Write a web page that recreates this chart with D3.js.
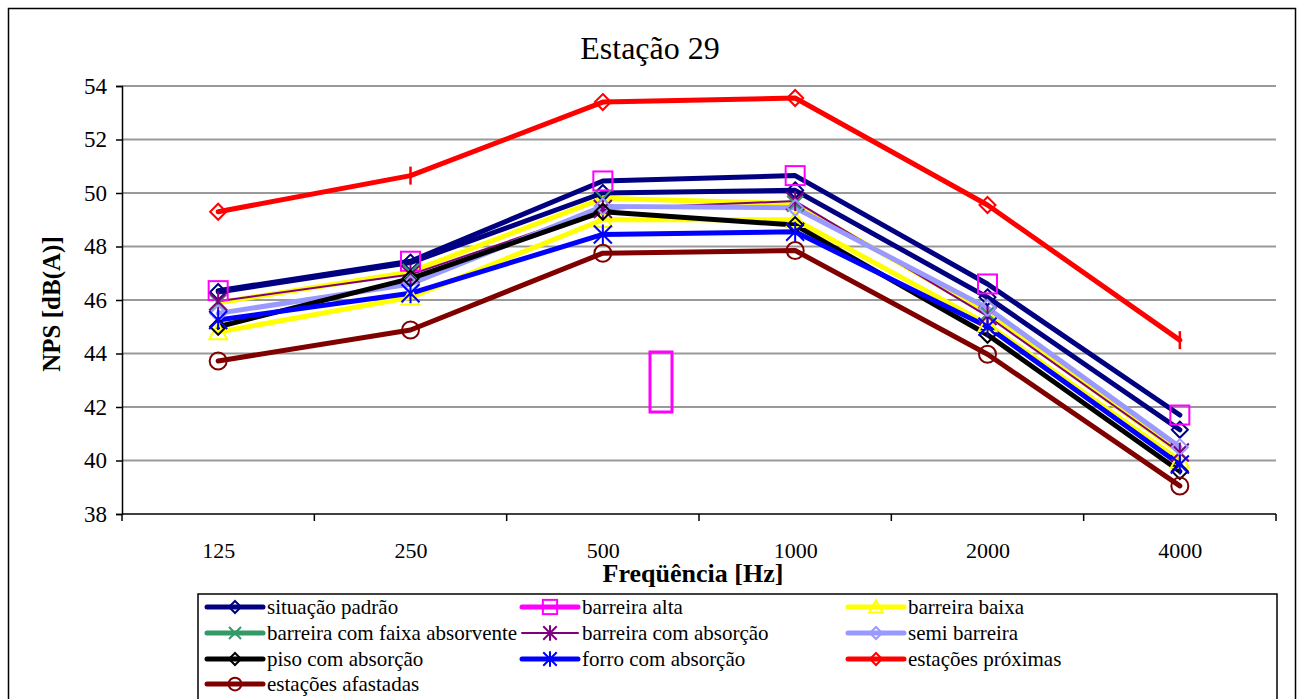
<!DOCTYPE html>
<html><head><meta charset="utf-8">
<script src="https://cdn.jsdelivr.net/npm/d3@7"></script>
<style>body{margin:0;background:#fff}svg{display:block}text{font-family:"Liberation Serif","Times New Roman",serif}</style>
</head><body>
<svg id="c" width="1303" height="699"></svg>
<script>
const categories = ["125","250","500","1000","2000","4000"];
const yTicks = [38,40,42,44,46,48,50,52,54];
const seriesNames = ["situação padrão","barreira alta","barreira baixa","barreira com faixa absorvente","barreira com absorção","semi barreira","piso com absorção","forro com absorção","estações próximas","estações afastadas"];
const situacaoPadrao   = [46.3, 47.4, 50.0, 50.1, 46.1, 41.15];
const barreiraAlta     = [46.35, 47.45, 50.45, 50.65, 46.6, 41.7];
const barreiraBaixa    = [44.8, 46.1, 49.0, 49.0, 45.1, 40.0];
const faixaAbsorvente  = [45.9, 47.05, 49.8, 49.6, 45.5, 40.3];
const barreiraAbsorcao = [45.95, 46.95, 49.4, 49.7, 45.4, 40.3];
const semiBarreira     = [45.5, 46.6, 49.5, 49.45, 45.7, 40.5];
const pisoAbsorcao     = [45.0, 46.8, 49.3, 48.8, 44.7, 39.6];
const forroAbsorcao    = [45.25, 46.25, 48.45, 48.55, 45.0, 39.85];
const estacoesProximas = [49.3, 50.65, 53.4, 53.55, 49.55, 44.5];
const estacoesAfastadas= [43.72, 44.88, 47.75, 47.85, 43.97, 39.05];

const values = [situacaoPadrao, barreiraAlta, barreiraBaixa, faixaAbsorvente, barreiraAbsorcao, semiBarreira, pisoAbsorcao, forroAbsorcao, estacoesProximas, estacoesAfastadas];
const styles = [
  {line:"#000080", legendLine:"#000080", marker:"diamond", mcolor:"#000080", w:5},
  {line:"#000080", legendLine:"#FF00FF", marker:"square", mcolor:"#FF00FF", w:5},
  {line:"#FFFF00", legendLine:"#FFFF00", marker:"triangle", mcolor:"#FFFF00", w:5},
  {line:"#FFFF00", legendLine:"#339966", marker:"x", mcolor:"#339966", w:5},
  {line:"#800080", legendLine:"#800080", marker:"star", mcolor:"#800080", w:2},
  {line:"#9999FF", legendLine:"#9999FF", marker:"diamond", mcolor:"#9999FF", w:5},
  {line:"#000000", legendLine:"#000000", marker:"diamond", mcolor:"#000000", w:5},
  {line:"#0000FF", legendLine:"#0000FF", marker:"star", mcolor:"#0000FF", w:5},
  {line:"#FF0000", legendLine:"#FF0000", marker:"diamond", mcolor:"#FF0000", w:5, tickAt:[1,5]},
  {line:"#800000", legendLine:"#800000", marker:"circle", mcolor:"#800000", w:5}
];

const svg = d3.select("#c");
// outer frame
svg.append("rect").attr("x",8.5).attr("y",8.5).attr("width",1287).attr("height",700)
  .attr("fill","none").attr("stroke","#000").attr("stroke-width",1.5);

const L=122, R=1276, T=86, B=514;
const x = d3.scalePoint().domain(categories).range([L,R]).padding(0.5);
const xb = d3.scaleBand().domain(categories).range([L,R]);
const y = d3.scaleLinear().domain([38,54]).range([B,T]);

// gridlines
svg.append("g").selectAll("line").data(yTicks.slice(1)).join("line")
  .attr("x1",L).attr("x2",R).attr("y1",d=>y(d)).attr("y2",d=>y(d))
  .attr("stroke","#999").attr("stroke-width",2);

// y axis
const ya = svg.append("g").attr("transform",`translate(${L},0)`)
  .call(d3.axisLeft(y).tickValues(yTicks).tickSize(6).tickPadding(9).tickFormat(d3.format("d")));
ya.attr("font-family",null);
ya.select(".domain").attr("stroke","#000").attr("stroke-width",1.5);
ya.selectAll(".tick line").attr("stroke","#000").attr("stroke-width",1.5);
ya.selectAll("text").style("font-size","23px").attr("fill","#000");

// x axis
const xa = svg.append("g").attr("transform",`translate(0,${B})`)
  .call(d3.axisBottom(x).tickSize(0).tickPadding(28));
xa.attr("font-family",null);
xa.select(".domain").remove();
xa.selectAll("text").style("font-size","22px").attr("fill","#000");
svg.append("line").attr("x1",L).attr("x2",R).attr("y1",B).attr("y2",B).attr("stroke","#000").attr("stroke-width",1.5);
const bounds = categories.map(c=>xb(c)).concat([xb(categories[categories.length-1])+xb.bandwidth()]);
svg.append("g").selectAll("line").data(bounds).join("line")
  .attr("x1",d=>d).attr("x2",d=>d).attr("y1",B).attr("y2",B+7).attr("stroke","#000").attr("stroke-width",1.5);

// titles
svg.append("text").attr("x",650).attr("y",59).attr("text-anchor","middle")
  .style("font-size","32px").text("Estação 29");
svg.append("text").attr("x",693).attr("y",582).attr("text-anchor","middle")
  .style("font-size","26px").attr("font-weight","bold").text("Freqüência [Hz]");
svg.append("text").attr("transform","translate(60,304) rotate(-90)").attr("text-anchor","middle")
  .style("font-size","25px").attr("font-weight","bold").text("NPS [dB(A)]");

function marker(g, type, cx, cy, color, vtick, k){
  k = k || 1;
  const sw = 2;
  if (vtick){
    g.append("line").attr("x1",cx).attr("x2",cx).attr("y1",cy-9).attr("y2",cy+9).attr("stroke",color).attr("stroke-width",2.5);
    return;
  }
  if (type==="diamond"){
    const s=8*k;
    g.append("path").attr("d",`M${cx},${cy-s}L${cx+s},${cy}L${cx},${cy+s}L${cx-s},${cy}Z`)
      .attr("fill","none").attr("stroke",color).attr("stroke-width",sw);
  } else if (type==="square"){
    const s=9.5*k;
    g.append("rect").attr("x",cx-s).attr("y",cy-s).attr("width",2*s).attr("height",2*s)
      .attr("fill","none").attr("stroke",color).attr("stroke-width",sw);
  } else if (type==="triangle"){
    const s=9*k;
    g.append("path").attr("d",`M${cx},${cy-s}L${cx+s},${cy+s*0.8}L${cx-s},${cy+s*0.8}Z`)
      .attr("fill","none").attr("stroke",color).attr("stroke-width",sw);
  } else if (type==="x"){
    const s=8*k;
    g.append("path").attr("d",`M${cx-s},${cy-s}L${cx+s},${cy+s}M${cx-s},${cy+s}L${cx+s},${cy-s}`)
      .attr("stroke",color).attr("stroke-width",sw);
  } else if (type==="star"){
    const s=9*k;
    g.append("path").attr("d",`M${cx-s},${cy-s}L${cx+s},${cy+s}M${cx-s},${cy+s}L${cx+s},${cy-s}M${cx},${cy-s-1}L${cx},${cy+s+1}`)
      .attr("stroke",color).attr("stroke-width",sw);
  } else if (type==="circle"){
    g.append("circle").attr("cx",cx).attr("cy",cy).attr("r",8.5*k)
      .attr("fill","none").attr("stroke",color).attr("stroke-width",sw);
  }
}

const line = d3.line().x((d,i)=>x(categories[i])).y(d=>y(d));
const plot = svg.append("g");
values.forEach((vals,si)=>{
  const st = styles[si];
  plot.append("path").attr("d",line(vals)).attr("fill","none")
    .attr("stroke",st.line).attr("stroke-width",st.w).attr("stroke-linejoin","round").attr("stroke-linecap","round");
});
values.forEach((vals,si)=>{
  const st = styles[si];
  const g = plot.append("g");
  vals.forEach((v,i)=>marker(g, st.marker, x(categories[i]), y(v), st.mcolor, st.tickAt && st.tickAt.includes(i)));
});

// stray magenta rectangle
svg.append("rect").attr("x",650).attr("y",352).attr("width",22).attr("height",60)
  .attr("fill","none").attr("stroke","#FF00FF").attr("stroke-width",3);

// legend
svg.append("rect").attr("x",198).attr("y",594).attr("width",1079).attr("height",120)
  .attr("fill","#fff").attr("stroke","#000").attr("stroke-width",1.5);
const colX = [207, 522, 848];
const rowY = [607, 633, 659, 684];
const leg = svg.append("g");
seriesNames.forEach((name,i)=>{
  const c = i%3, r = Math.floor(i/3);
  const x0 = colX[c], yy = rowY[r], st = styles[i];
  leg.append("line").attr("x1",x0).attr("x2",x0+56).attr("y1",yy).attr("y2",yy)
    .attr("stroke",st.legendLine).attr("stroke-width",st.w).attr("stroke-linecap","round");
  marker(leg, st.marker, x0+28, yy, st.mcolor, false, 0.75);
  leg.append("text").attr("x",x0+60).attr("y",yy+7).style("font-size","21px").text(name);
});
</script>
</body></html>
